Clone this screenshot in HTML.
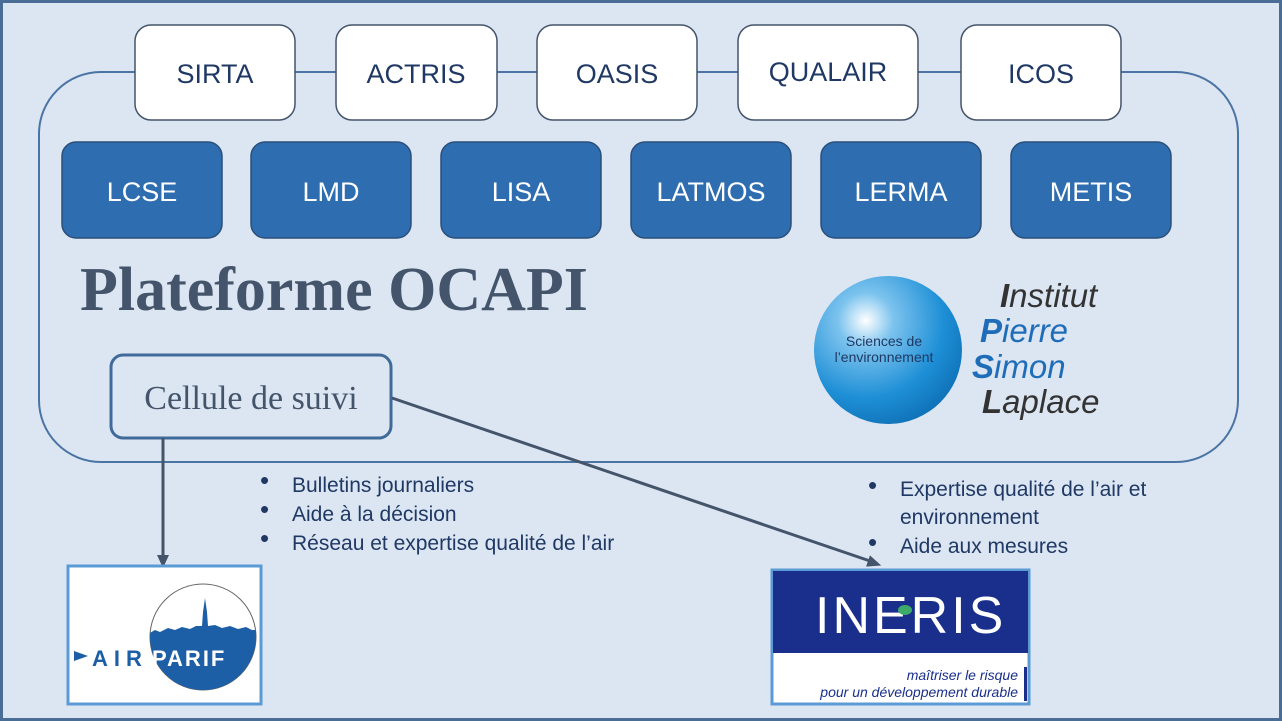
<!DOCTYPE html>
<html><head><meta charset="utf-8"><style>
body{margin:0;width:1282px;height:721px;overflow:hidden;background:#dce6f2;}
svg{display:block;font-family:"Liberation Sans","DejaVu Sans",sans-serif}
.serif{font-family:"Liberation Serif",serif}
</style></head><body>
<svg width="1282" height="721" viewBox="0 0 1282 721">
<defs>
<radialGradient id="g" cx="0.35" cy="0.3" r="0.75">
<stop offset="0" stop-color="#ffffff"/><stop offset="0.25" stop-color="#7cc3ee"/><stop offset="0.7" stop-color="#1e8fd6"/><stop offset="1" stop-color="#0f72b8"/>
</radialGradient>
</defs>
<rect x="1.5" y="1.5" width="1279" height="718" fill="#dce6f2" stroke="#4a6d96" stroke-width="3"/>
<rect x="39" y="72" width="1199" height="390" rx="62" fill="none" stroke="#4a74a4" stroke-width="2"/>
<g stroke="#44546a" stroke-width="1.5" fill="#fff">
<rect x="135" y="25" width="160" height="95" rx="16"/>
<rect x="336" y="25" width="161" height="95" rx="16"/>
<rect x="537" y="25" width="160" height="95" rx="16"/>
<rect x="738" y="25" width="180" height="95" rx="16"/>
<rect x="961" y="25" width="160" height="95" rx="16"/>
</g>
<g font-size="27" fill="#1f3864" text-anchor="middle">
<text x="215" y="83">SIRTA</text><text x="416" y="83">ACTRIS</text><text x="617" y="83">OASIS</text><text x="828" y="81">QUALAIR</text><text x="1041" y="83">ICOS</text>
</g>
<g stroke="#2a4f7a" stroke-width="1.5" fill="#2e6db0">
<rect x="62" y="142" width="160" height="96" rx="14"/>
<rect x="251" y="142" width="160" height="96" rx="14"/>
<rect x="441" y="142" width="160" height="96" rx="14"/>
<rect x="631" y="142" width="160" height="96" rx="14"/>
<rect x="821" y="142" width="160" height="96" rx="14"/>
<rect x="1011" y="142" width="160" height="96" rx="14"/>
</g>
<g font-size="27" fill="#fff" text-anchor="middle">
<text x="142" y="201">LCSE</text><text x="331" y="201">LMD</text><text x="521" y="201">LISA</text><text x="711" y="201">LATMOS</text><text x="901" y="201">LERMA</text><text x="1091" y="201">METIS</text>
</g>
<text x="80" y="310" class="serif" font-weight="bold" font-size="62" fill="#44546a">Plateforme OCAPI</text>
<circle cx="888" cy="350" r="74" fill="url(#g)"/>
<text x="884" y="346" font-size="14" fill="#1f3864" text-anchor="middle">Sciences de</text>
<text x="884" y="362" font-size="14" fill="#1f3864" text-anchor="middle">l’environnement</text>
<g font-size="33" font-style="italic" fill="#1f6db8">
<text x="1000" y="307" fill="#333"><tspan font-weight="bold">I</tspan>nstitut</text>
<text x="980" y="342"><tspan font-weight="bold">P</tspan>ierre</text>
<text x="972" y="378"><tspan font-weight="bold">S</tspan>imon</text>
<text x="982" y="413" fill="#333"><tspan font-weight="bold">L</tspan>aplace</text>
</g>
<rect x="111" y="355" width="280" height="83" rx="12" fill="#dce6f2" stroke="#3f6a9a" stroke-width="3"/>
<text x="251" y="409" text-anchor="middle" class="serif" font-size="34" fill="#44546a">Cellule de suivi</text>
<line x1="163" y1="438" x2="163" y2="556" stroke="#44546a" stroke-width="3"/>
<path d="M157,555 L169,555 L163,568 z" fill="#44546a"/>
<line x1="392" y1="398" x2="870" y2="561" stroke="#44546a" stroke-width="3"/>
<path d="M0,-6 L14,0 L0,6 z" fill="#44546a" transform="translate(868,561) rotate(18.8)"/>
<g font-size="21" fill="#1f3864">
<text x="260" y="489" font-size="26">•</text><text x="292" y="492">Bulletins journaliers</text>
<text x="260" y="518" font-size="26">•</text><text x="292" y="521">Aide à la décision</text>
<text x="260" y="547" font-size="26">•</text><text x="292" y="550">Réseau et expertise qualité de l’air</text>
<text x="868" y="494" font-size="26">•</text><text x="900" y="496">Expertise qualité de l’air et</text>
<text x="900" y="524">environnement</text>
<text x="868" y="551" font-size="26">•</text><text x="900" y="553">Aide aux mesures</text>
</g>
<rect x="68" y="566" width="193" height="138" fill="#fff" stroke="#5b9bd5" stroke-width="3"/>
<clipPath id="c"><circle cx="203" cy="637" r="53"/></clipPath>
<circle cx="203" cy="637" r="53" fill="#fff" stroke="#666" stroke-width="1"/>
<g clip-path="url(#c)"><path d="M148,634 L155,630 L160,632 L168,628 L175,630 L182,627 L190,629 L196,626 L202,626 L203,612 L205,598 L207,612 L208,626 L215,625 L222,628 L230,626 L238,629 L246,627 L252,630 L258,630 L260,700 L148,700z" fill="#1d5fa6"/></g>
<path d="M74,651 L88,656 L74,661z" fill="#1d5fa6"/>
<text x="92" y="666" font-size="22" font-weight="bold" fill="#1d5fa6" letter-spacing="6">AIR</text>
<text x="152" y="666" font-size="22" font-weight="bold" fill="#fff" letter-spacing="2">PARIF</text>
<rect x="772" y="570" width="257" height="134" fill="#fff" stroke="#5b9bd5" stroke-width="3"/>
<rect x="773" y="571" width="255" height="82" fill="#1a2f8c"/>
<text x="815" y="633" font-size="52" fill="#fff" letter-spacing="3">INERIS</text>
<ellipse cx="905" cy="610" rx="7" ry="5" fill="#3daa6a"/>
<text x="1018" y="680" font-size="14" font-style="italic" fill="#1a2f8c" text-anchor="end">maîtriser le risque</text>
<text x="1018" y="697" font-size="14" font-style="italic" fill="#1a2f8c" text-anchor="end">pour un développement durable</text>
<rect x="1024" y="667" width="3" height="34" fill="#1a2f8c"/>
</svg>
</body></html>
